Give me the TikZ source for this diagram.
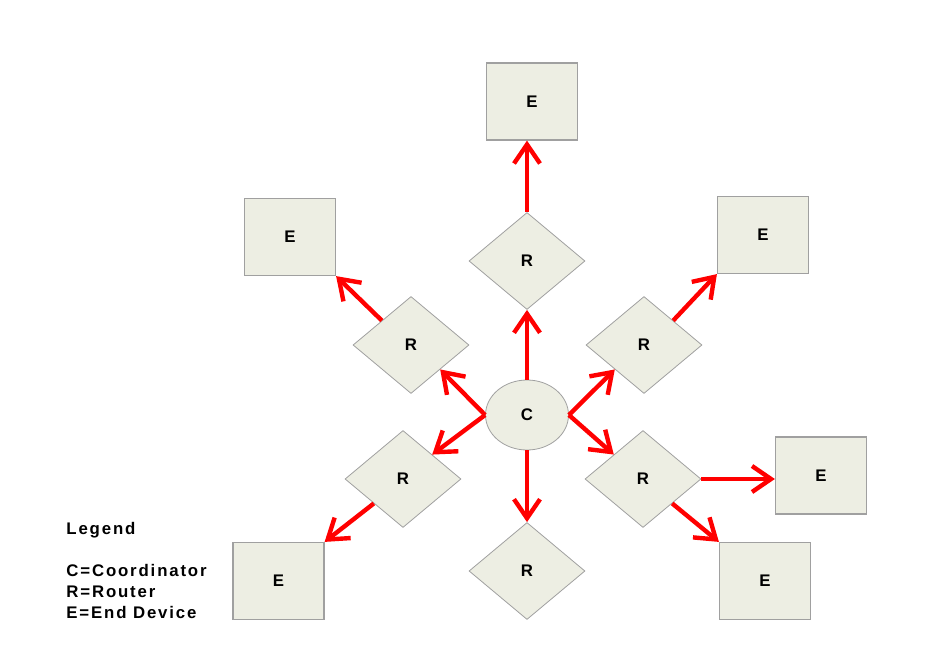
\documentclass[tikz,border=0pt]{standalone}
\usepackage{fontspec}
\setmainfont{Liberation Sans}
\usetikzlibrary{shapes.geometric, arrows.meta}
\definecolor{boxfill}{RGB}{237,238,227}
\definecolor{boxline}{RGB}{160,160,160}
\definecolor{linkred}{RGB}{255,0,0}

\begin{document}
\begin{tikzpicture}[x=0.5pt, y=-0.5pt, font=\bfseries\fontsize{8.4}{10}\selectfont,
  every node/.style={inner sep=0pt},
  enddev/.style={rectangle, draw=boxline, line width=0.6pt, fill=boxfill, minimum width=45.5pt, minimum height=38.5pt},
  router/.style={diamond, draw=boxline, line width=0.4pt, fill=boxfill, minimum width=58pt, minimum height=48.5pt},
  coord/.style={ellipse, draw=boxline, line width=0.4pt, fill=boxfill, minimum width=41.5pt, minimum height=35pt},
  link/.style={draw=linkred, line width=2.2pt, -{Straight Barb[length=9.5pt, width=13pt]}},
  legend/.style={anchor=base west, font=\bfseries\fontsize{8.4}{10}\selectfont\addfontfeature{LetterSpace=11}}]
  \useasboundingbox (0,0) rectangle (946,663);
  % coordinator
  \node[coord] (C) at (527,415) {C};
  % routers
  \node[router] (Rt) at (527,261) {R};
  \node[router] (Rul) at (411,345) {R};
  \node[router] (Rur) at (644,345) {R};
  \node[router] (Rll) at (403,479) {R};
  \node[router] (Rlr) at (643,479) {R};
  \node[router] (Rb) at (527,571) {R};
  % end devices
  \node[enddev] (Et) at (532,101.5) {E};
  \node[enddev] (Eul) at (290,237) {E};
  \node[enddev] (Eur) at (763,235) {E};
  \node[enddev] (Er) at (821,475.5) {E};
  \node[enddev] (Ebl) at (278.5,581) {E};
  \node[enddev] (Ebr) at (765,581) {E};
  % coordinator to routers
  \draw[link] (C.north) -- (Rt.south);
  \draw[link] (C.south) -- (Rb.north);
  \draw[link] (C.west) -- (Rul.south east);
  \draw[link] (C.west) -- (Rll.north east);
  \draw[link] (C.east) -- (Rur.south west);
  \draw[link] (C.east) -- (Rlr.north west);
  % routers to end devices
  \draw[link] (Rt.north) -- (Rt.north |- Et.south);
  \draw[link] (Rul.north west) -- (Eul.south east);
  \draw[link] (Rur.north east) -- (Eur.south west);
  \draw[link] (Rll.south west) -- (Ebl.north east);
  \draw[link] (Rlr.east) -- (Rlr.east -| Er.west);
  \draw[link] (Rlr.south east) -- (Ebr.north west);
  % legend
  \node[legend] (lgd) at (66,534) {Legend};
  \node[legend] (lgc) at (66,576) {C=Coordinator};
  \node[legend] (lgr) at (66,597) {R=Router};
  \node[legend] (lge) at (66,618) {E=End Device};
\end{tikzpicture}
\end{document}
